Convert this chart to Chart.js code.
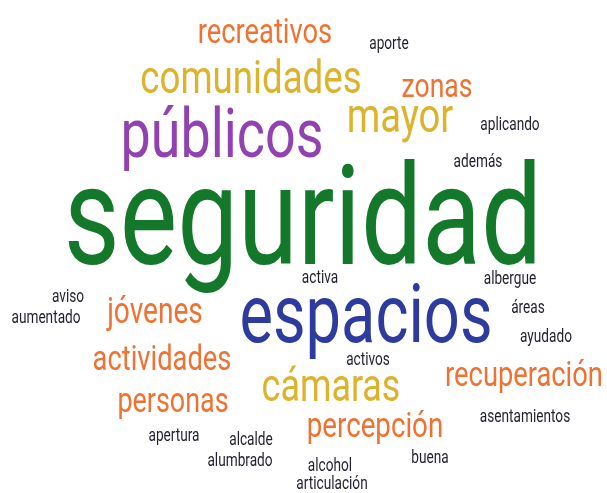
<!DOCTYPE html>
<html>
<head>
<meta charset="utf-8">
<script src="https://cdn.jsdelivr.net/npm/chart.js@4/dist/chart.umd.min.js"></script>
<style>
  html, body { margin: 0; padding: 0; background: #ffffff; }
  #wrap { width: 607px; height: 493px; }
</style>
</head>
<body>
<div id="wrap"><canvas id="c" width="607" height="493"></canvas></div>
<script>
// ---- data ----
const words = ["seguridad","espacios","públicos","comunidades","mayor","cámaras",
  "zonas","recreativos","jóvenes","actividades","personas","recuperación","percepción",
  "aporte","aplicando","además","activa","albergue","áreas","ayudado","aviso","aumentado",
  "activos","asentamientos","apertura","alcalde","alumbrado","buena","alcohol","articulación"];
// relative frequency (word weight)
const weights = [139,81,69,47,49,46,34,35,36,35,34.5,35,35.5,
  17.5,17.5,17.5,17.5,17.5,17.5,17.5,17.5,17.5,17.5,17.5,17.5,17.5,17.5,17.5,17.5,17.5];
// word centre (x) and baseline (y) in the cloud's layout space
const xPos = [303,366,222,251,400,331,437,265,155,162,173,524,375,
  389,510,478,320,510,528,546,68,46,368,525,174,251,240,430,330,332];
const yPos = [264,342,157,93,132,401,97,43,323,370,412,386,437,
  49,130,167,283,284,313,342,302,323,365,422,441,445,466,463,471,489];
// colour group of each word
const groups = [0,1,2,3,3,3,4,4,4,4,4,4,4,
  5,5,5,5,5,5,5,5,5,5,5,5,5,5,5,5,5];

// ---- style ----
const palette = ["#13782a","#2d3a9e","#9142b0","#dcb32b","#f07232","#1f1f2e"];
const condense = 0.78;
const fontFamily = "Roboto, 'Noto Sans', sans-serif";

const points = words.map((w, i) => ({ x: xPos[i], y: yPos[i] }));

const wordPlugin = {
  id: 'wordText',
  afterDatasetsDraw(chart) {
    const ctx = chart.ctx;
    const meta = chart.getDatasetMeta(0);
    meta.data.forEach((el, i) => {
      ctx.save();
      ctx.translate(el.x, el.y);
      ctx.scale(condense, 1);
      ctx.font = weights[i] + "px " + fontFamily;
      ctx.fillStyle = palette[groups[i]];
      ctx.textAlign = "center";
      ctx.textBaseline = "alphabetic";
      ctx.fillText(words[i], 0, 0);
      ctx.restore();
    });
  }
};

new Chart(document.getElementById('c'), {
  type: 'scatter',
  data: {
    datasets: [{
      label: 'palabras',
      data: points,
      pointRadius: 0,
      pointHoverRadius: 0,
      backgroundColor: 'rgba(0,0,0,0)'
    }]
  },
  options: {
    responsive: false,
    devicePixelRatio: 1,
    animation: false,
    layout: { padding: 0 },
    plugins: { legend: { display: false }, tooltip: { enabled: false } },
    scales: {
      x: { type: 'linear', min: 0, max: 607, display: false },
      y: { type: 'linear', min: 0, max: 493, reverse: true, display: false }
    }
  },
  plugins: [wordPlugin]
});
</script>
</body>
</html>
